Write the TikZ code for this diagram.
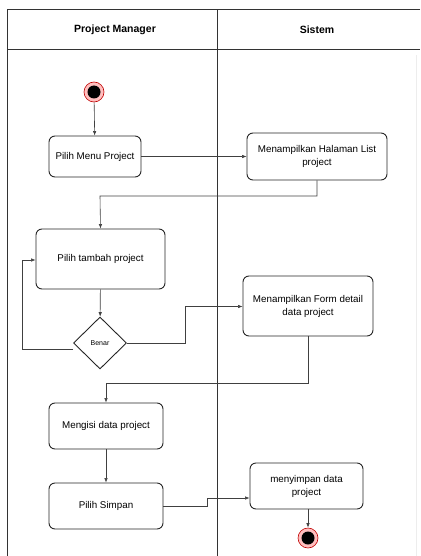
\documentclass[tikz,border=0pt]{standalone}
\usepackage{fontspec}
\setmainfont{Liberation Sans}
\usetikzlibrary{shapes.geometric,arrows.meta}
\begin{document}
\begin{tikzpicture}[x=1pt,y=-1pt,
  act/.style={draw=black!85, line width=0.9pt, rounded corners=6pt, align=center, font=\fontsize{9.8}{13}\selectfont, inner sep=0pt, fill=white},
  conn/.style={draw=black!75, line width=0.6pt, -{Latex[length=4.5pt,width=3.5pt]}},
  frame/.style={draw=black!80, line width=1pt},
  startnode/.style={circle, draw=red!75!black, fill=red!25, line width=0.6pt, minimum size=20pt, inner sep=0pt, path picture={\fill[black] (path picture bounding box.center) circle (6.5pt);}},
  hdr/.style={font=\bfseries\fontsize{10.5}{12}\selectfont}]
\useasboundingbox (0,0) rectangle (420,556);
% frame
\draw[frame] (420,10) -- (7,10) -- (7,556);
\draw[frame] (7,50) -- (420,50);
\draw[frame] (217,10) -- (217,556);
\draw[black!7, line width=0.4pt] (416,55) -- (416,556);
\node[hdr] (h1) at (115,30) {Project Manager};
\node[hdr] (h2) at (317,30) {Sistem};
% nodes
\node[startnode] (start) at (94,92) {};
\node[act, minimum width=92pt, minimum height=41pt] (menu) at (95,156.5) {Pilih Menu Project};
\node[act, minimum width=140pt, minimum height=47pt] (list) at (317,156.5) {Menampilkan Halaman List\\project};
\node[act, minimum width=129pt, minimum height=60pt] (tambah) at (100.5,259) {Pilih tambah project};
\node[diamond, draw=black!85, line width=0.9pt, minimum width=53pt, minimum height=52pt, inner sep=0pt, font=\fontsize{7}{8}\selectfont, fill=white] (benar) at (100,343) {Benar};
\node[act, minimum width=130pt, minimum height=60pt] (form) at (308,306) {Menampilkan Form detail\\data project};
\node[act, minimum width=114pt, minimum height=46pt] (isi) at (106,426) {Mengisi data project};
\node[act, minimum width=114pt, minimum height=46pt] (simpan) at (106,506) {Pilih Simpan};
\node[act, minimum width=113pt, minimum height=46pt] (store) at (306.5,486) {menyimpan data\\project};
\node[startnode] (end) at (308,538) {};
\coordinate (c1) at (317,196);
\coordinate (c2) at (100,196);
\coordinate (c3) at (22,349);
\coordinate (c4) at (22,260);
\coordinate (c5) at (185,343);
\coordinate (c6) at (185,306.5);
\coordinate (c7) at (308,383);
\coordinate (c8) at (106,383);
\coordinate (c9) at (207,506);
\coordinate (c10) at (207,498);
% connectors
\draw[conn] (start) -- (menu);
\draw[conn] (menu) -- (list);
\draw[conn] (list.south) -- (c1) -- (c2) -- (tambah.north);
\draw[conn] (tambah) -- (benar);
\draw[conn] (benar.west |- c3) -- (c3) -- (c4) -- (tambah.west |- c4);
\draw[conn] (benar.east) -- (c5) -- (c6) -- (form.west |- c6);
\draw[conn] (form.south) -- (c7) -- (c8) -- (isi.north);
\draw[conn] (isi) -- (simpan);
\draw[conn] (simpan.east) -- (c9) -- (c10) -- (store.west |- c10);
\draw[conn] (store.south -| end) -- (end);
\end{tikzpicture}
\end{document}
